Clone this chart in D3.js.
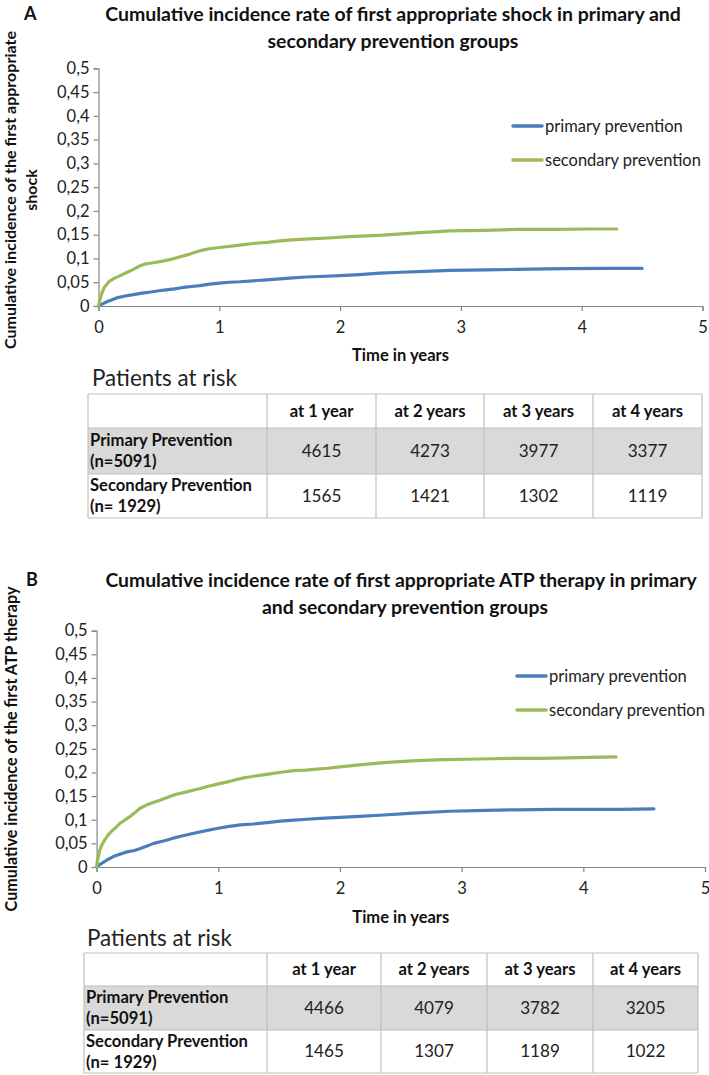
<!DOCTYPE html>
<html>
<head>
<meta charset="utf-8">
<script src="https://cdn.jsdelivr.net/npm/d3@7"></script>
<style>
  html, body { margin: 0; padding: 0; background: #fff; }
  svg { display: block; }
</style>
</head>
<body>
<svg id="chart" width="709" height="1075"></svg>
<script>
// ---------------- DATA ----------------
const yTicks = [0, 0.05, 0.1, 0.15, 0.2, 0.25, 0.3, 0.35, 0.4, 0.45, 0.5];
const xTicks = [0, 1, 2, 3, 4, 5];
const seriesNames = ["primary prevention", "secondary prevention"];
const riskColumns = ["at 1 year", "at 2 years", "at 3 years", "at 4 years"];
const riskRows = [["Primary Prevention", "(n=5091)"], ["Secondary Prevention", "(n= 1929)"]];

// Panel A: first appropriate shock  [time in years, cumulative incidence]
const shockPrimary = [[0,0],[0.03,0.004],[0.07,0.009],[0.15,0.017],[0.22,0.021],[0.29,0.024],[0.36,0.027],[0.42,0.029],[0.5,0.032],[0.56,0.034],[0.63,0.036],[0.7,0.039],[0.77,0.041],[0.84,0.043],[0.92,0.046],[1.0,0.048],[1.08,0.050],[1.17,0.051],[1.28,0.053],[1.39,0.055],[1.5,0.057],[1.61,0.059],[1.72,0.061],[1.83,0.062],[2.0,0.064],[2.16,0.066],[2.33,0.069],[2.5,0.071],[2.7,0.073],[2.91,0.075],[3.2,0.076],[3.46,0.077],[3.7,0.078],[3.88,0.0785],[4.2,0.079],[4.5,0.079]];
const shockSecondary = [[0,0],[0.01,0.012],[0.025,0.025],[0.05,0.04],[0.09,0.052],[0.13,0.058],[0.18,0.064],[0.23,0.07],[0.28,0.076],[0.33,0.083],[0.38,0.088],[0.45,0.091],[0.52,0.094],[0.6,0.098],[0.67,0.103],[0.74,0.108],[0.8,0.113],[0.87,0.118],[0.93,0.121],[1.0,0.123],[1.1,0.126],[1.2,0.129],[1.3,0.132],[1.4,0.134],[1.5,0.137],[1.6,0.139],[1.75,0.141],[1.9,0.143],[2.08,0.146],[2.35,0.149],[2.63,0.154],[2.91,0.158],[3.2,0.159],[3.46,0.161],[3.8,0.161],[4.05,0.162],[4.29,0.162]];

// Panel B: first appropriate ATP therapy
const atpPrimary = [[0,0],[0.02,0.004],[0.055,0.01],[0.1,0.017],[0.137,0.022],[0.19,0.027],[0.25,0.032],[0.31,0.035],[0.36,0.039],[0.42,0.045],[0.47,0.05],[0.55,0.055],[0.63,0.061],[0.71,0.066],[0.79,0.071],[0.9,0.077],[1.0,0.082],[1.09,0.086],[1.18,0.089],[1.29,0.091],[1.4,0.094],[1.51,0.097],[1.62,0.099],[1.73,0.101],[1.84,0.103],[2.0,0.105],[2.16,0.107],[2.36,0.110],[2.6,0.114],[2.9,0.118],[3.2,0.12],[3.45,0.121],[3.75,0.122],[4.0,0.122],[4.3,0.122],[4.58,0.123]];
const atpSecondary = [[0,0],[0.008,0.015],[0.027,0.036],[0.045,0.048],[0.068,0.058],[0.09,0.066],[0.12,0.075],[0.155,0.083],[0.19,0.092],[0.23,0.099],[0.27,0.106],[0.31,0.114],[0.36,0.125],[0.41,0.131],[0.47,0.137],[0.52,0.141],[0.58,0.147],[0.63,0.152],[0.69,0.156],[0.74,0.159],[0.8,0.163],[0.85,0.166],[0.92,0.171],[1.0,0.176],[1.06,0.179],[1.12,0.183],[1.2,0.188],[1.29,0.192],[1.37,0.195],[1.45,0.198],[1.53,0.201],[1.62,0.204],[1.72,0.205],[1.81,0.207],[1.9,0.209],[2.0,0.212],[2.16,0.216],[2.36,0.221],[2.63,0.225],[2.85,0.227],[3.04,0.228],[3.25,0.229],[3.45,0.230],[3.65,0.230],[3.86,0.231],[4.05,0.232],[4.27,0.233]];

const shockRiskPrimary = [4615, 4273, 3977, 3377];
const shockRiskSecondary = [1565, 1421, 1302, 1119];
const atpRiskPrimary = [4466, 4079, 3782, 3205];
const atpRiskSecondary = [1465, 1307, 1189, 1022];

// ---------------- STYLE / LAYOUT ----------------
const FONT = "Lato, 'Open Sans', sans-serif";
const colors = ["#4a7ebb", "#9bbb59"];
const axisColor = "#868686";
const gridColor = "#bfbfbf";

const svg = d3.select("#chart");

function fit(sel, target) {
  const w = sel.node().getComputedTextLength();
  const fs = parseFloat(sel.attr("font-size"));
  sel.attr("font-size", (fs * target / w).toFixed(2));
  return sel;
}

function drawPanel(cfg) {
  const g = svg.append("g");
  const x = d3.scaleLinear().domain([0, 5]).range([cfg.x0, cfg.x1]);
  const y = d3.scaleLinear().domain([0, 0.5]).range([cfg.y0, cfg.y1]);

  // panel letter
  g.append("text").attr("x", cfg.letterX).attr("y", cfg.titleY[0]).attr("dy", "0.35em")
    .attr("font-family", FONT).attr("font-weight", "bold").attr("font-size", 18)
    .attr("fill", "#111").text(cfg.letter);

  // title
  cfg.title.forEach((t, i) => {
    const s = g.append("text").attr("x", cfg.titleX[i]).attr("y", cfg.titleY[i]).attr("dy", "0.35em")
      .attr("text-anchor", "middle").attr("font-family", FONT).attr("font-weight", "bold")
      .attr("font-size", 17).attr("fill", "#111").text(t);
    fit(s, cfg.titleW[i]);
  });

  // y axis
  const yAxis = d3.axisLeft(y).tickValues(yTicks).tickSize(5).tickPadding(4)
    .tickFormat(d => String(d).replace(".", ","));
  const ya = g.append("g").attr("transform", `translate(${cfg.x0},0)`).call(yAxis);
  // x axis
  const xAxis = d3.axisBottom(x).tickValues(xTicks).tickSize(5).tickPadding(10).tickFormat(d3.format("d"));
  const xa = g.append("g").attr("transform", `translate(0,${cfg.y0})`).call(xAxis);
  [ya, xa].forEach(a => {
    a.select(".domain").attr("stroke", axisColor).attr("stroke-width", 1.2);
    a.selectAll(".tick line").attr("stroke", axisColor).attr("stroke-width", 1.2);
    a.selectAll(".tick text").attr("font-family", FONT).attr("font-size", 16.5).attr("fill", "#222");
  });

  // axis titles
  fit(g.append("text").attr("x", (cfg.x0 + cfg.x1) / 2).attr("y", cfg.xTitleY).attr("dy", "0.35em")
    .attr("text-anchor", "middle").attr("font-family", FONT).attr("font-weight", "bold")
    .attr("font-size", 15).attr("fill", "#111").text("Time in years"), 97);
  let yfs = 14;
  cfg.yTitle.forEach((t, i) => {
    const s = g.append("text")
      .attr("transform", `translate(${cfg.yTitleX[i]},${cfg.yTitleC}) rotate(-90)`)
      .attr("text-anchor", "middle").attr("font-family", FONT).attr("font-weight", "bold")
      .attr("font-size", 14).attr("fill", "#111").text(t);
    if (i === 0) { fit(s, cfg.yTitleW); yfs = s.attr("font-size"); }
    else s.attr("font-size", yfs);
  });

  // curves
  const line = d3.line().x(d => x(d[0])).y(d => y(d[1]));
  cfg.series.forEach((data, i) => {
    g.append("path").datum(data).attr("d", line).attr("fill", "none")
      .attr("stroke", colors[i]).attr("stroke-width", 3.2)
      .attr("stroke-linejoin", "round").attr("stroke-linecap", "round");
  });

  // legend
  const legW = [138, 156];
  seriesNames.forEach((name, i) => {
    const ly = cfg.legendY + i * cfg.legendGap;
    g.append("line").attr("x1", cfg.legendX).attr("x2", cfg.legendX + 29)
      .attr("y1", ly).attr("y2", ly).attr("stroke", colors[i]).attr("stroke-width", 3.5)
      .attr("stroke-linecap", "round");
    fit(g.append("text").attr("x", cfg.legendX + 32).attr("y", ly).attr("dy", "0.35em")
      .attr("font-family", FONT).attr("font-size", 16).attr("fill", "#222").text(name), legW[i]);
  });

  // patients at risk
  fit(g.append("text").attr("x", cfg.parX).attr("y", cfg.parY).attr("dy", "0.35em")
    .attr("font-family", FONT).attr("font-size", 20).attr("fill", "#222").text("Patients at risk"), 145);

  const cx = cfg.cols, ry = cfg.rows;
  // grey row
  g.append("rect").attr("x", cx[0]).attr("y", ry[1]).attr("width", cx[5] - cx[0])
    .attr("height", ry[2] - ry[1]).attr("fill", "#d9d9d9");
  // borders
  ry.forEach(v => g.append("line").attr("x1", cx[0]).attr("x2", cx[5]).attr("y1", v).attr("y2", v)
    .attr("stroke", gridColor).attr("stroke-width", 1.2));
  cx.forEach(v => g.append("line").attr("x1", v).attr("x2", v).attr("y1", ry[0]).attr("y2", ry[3])
    .attr("stroke", gridColor).attr("stroke-width", 1.2));

  // table font size derived from the widest row label
  const probe = g.append("text").attr("font-family", FONT).attr("font-weight", "bold")
    .attr("font-size", 16).text(riskRows[1][0]);
  fit(probe, 162);
  const tfs = +probe.attr("font-size");
  probe.remove();

  riskColumns.forEach((c, j) => {
    g.append("text").attr("x", (cx[j + 1] + cx[j + 2]) / 2).attr("y", (ry[0] + ry[1]) / 2).attr("dy", "0.35em")
      .attr("text-anchor", "middle").attr("font-family", FONT).attr("font-weight", "bold")
      .attr("font-size", tfs).attr("fill", "#111").text(c);
  });
  riskRows.forEach((r, i) => {
    const top = ry[i + 1], bot = ry[i + 2], mid = (top + bot) / 2;
    r.forEach((t, k) => {
      g.append("text").attr("x", cx[0] + 2).attr("y", mid + (k === 0 ? -10.5 : 10.5)).attr("dy", "0.35em")
        .attr("font-family", FONT).attr("font-weight", "bold").attr("font-size", tfs)
        .attr("fill", "#111").text(t);
    });
    cfg.risk[i].forEach((v, j) => {
      g.append("text").attr("x", (cx[j + 1] + cx[j + 2]) / 2).attr("y", mid).attr("dy", "0.35em")
        .attr("text-anchor", "middle").attr("font-family", FONT).attr("font-size", tfs + 0.5)
        .attr("fill", "#222").text(v);
    });
  });
}

drawPanel({
  letter: "A", letterX: 24,
  title: ["Cumulative incidence rate of first appropriate shock in primary and", "secondary prevention groups"],
  titleX: [393, 393], titleY: [14, 41], titleW: [576, 251],
  x0: 98.5, x1: 702.5, y0: 306, y1: 68.3,
  xTitleY: 355,
  yTitle: ["Cumulative incidence of the first appropriate", "shock"], yTitleX: [16, 37], yTitleC: 190, yTitleW: 318,
  series: [shockPrimary, shockSecondary],
  legendX: 513, legendY: 126, legendGap: 34,
  parX: 92, parY: 378,
  cols: [88, 267, 376, 484, 593, 702], rows: [394, 428, 474, 518],
  risk: [shockRiskPrimary, shockRiskSecondary]
});

drawPanel({
  letter: "B", letterX: 26,
  title: ["Cumulative incidence rate of first appropriate ATP therapy in primary", "and secondary prevention groups"],
  titleX: [401, 405], titleY: [580, 607], titleW: [592, 286],
  x0: 96.6, x1: 705, y0: 867, y1: 630.7,
  xTitleY: 917,
  yTitle: ["Cumulative incidence of the first ATP therapy"], yTitleX: [17], yTitleC: 749, yTitleW: 325,
  series: [atpPrimary, atpSecondary],
  legendX: 517, legendY: 676, legendGap: 34,
  parX: 87, parY: 938,
  cols: [84, 267, 381, 487, 593, 698], rows: [953, 986, 1030, 1073],
  risk: [atpRiskPrimary, atpRiskSecondary]
});
</script>
</body>
</html>
